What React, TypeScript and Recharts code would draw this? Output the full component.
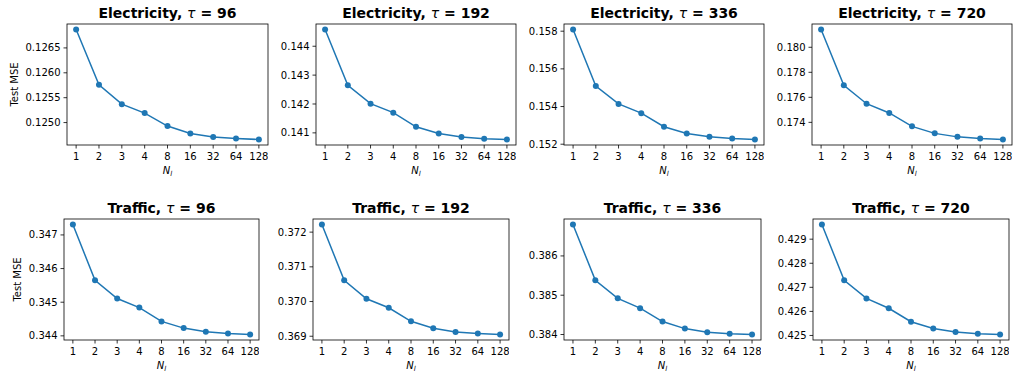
import { Line, LineChart, XAxis, YAxis } from 'recharts'

const nLayers = ['1', '2', '3', '4', '8', '16', '32', '64', '128']

const electricity96 = [0.12687, 0.12576, 0.12537, 0.12519, 0.12493, 0.12478, 0.12471, 0.12468, 0.12466]
const electricity192 = [0.14458, 0.14265, 0.14201, 0.1417, 0.14121, 0.14098, 0.14086, 0.1408, 0.14077]
const electricity336 = [0.15809, 0.15509, 0.15414, 0.15365, 0.15293, 0.15257, 0.15239, 0.1523, 0.15225]
const electricity720 = [0.18142, 0.17696, 0.17549, 0.17475, 0.17368, 0.17312, 0.17284, 0.17271, 0.17263]
const traffic96 = [0.34731, 0.34565, 0.34511, 0.34484, 0.34443, 0.34423, 0.34412, 0.34407, 0.34404]
const traffic192 = [0.37222, 0.37061, 0.37008, 0.36982, 0.36943, 0.36923, 0.36912, 0.36908, 0.36905]
const traffic336 = [0.3868, 0.38538, 0.38492, 0.38467, 0.38433, 0.38415, 0.38406, 0.38402, 0.384]
const traffic720 = [0.42961, 0.42729, 0.42654, 0.42613, 0.42557, 0.42529, 0.42514, 0.42507, 0.42504]

const ticksE96 = [0.125, 0.1255, 0.126, 0.1265]
const ticksE192 = [0.141, 0.142, 0.143, 0.144]
const ticksE336 = [0.152, 0.154, 0.156, 0.158]
const ticksE720 = [0.174, 0.176, 0.178, 0.18]
const ticksT96 = [0.344, 0.345, 0.346, 0.347]
const ticksT192 = [0.369, 0.37, 0.371, 0.372]
const ticksT336 = [0.384, 0.385, 0.386]
const ticksT720 = [0.425, 0.426, 0.427, 0.428, 0.429]

const FONT = '"DejaVu Sans", sans-serif'
const BLUE = '#1f77b4'
const YW = 60

type PanelDef = {
  name: string
  tau: number
  values: number[]
  ticks: number[]
  digits: number
  x0: number
  x1: number
  y0: number
  y1: number
  ylabelX?: number
}

const panels: PanelDef[] = [
  { name: 'Electricity', tau: 96, values: electricity96, ticks: ticksE96, digits: 4, x0: 67, x1: 268, y0: 24, y1: 145, ylabelX: 18 },
  { name: 'Electricity', tau: 192, values: electricity192, ticks: ticksE192, digits: 3, x0: 316, x1: 516, y0: 24, y1: 145 },
  { name: 'Electricity', tau: 336, values: electricity336, ticks: ticksE336, digits: 3, x0: 564, x1: 764, y0: 24, y1: 145 },
  { name: 'Electricity', tau: 720, values: electricity720, ticks: ticksE720, digits: 3, x0: 812, x1: 1012, y0: 24, y1: 145 },
  { name: 'Traffic', tau: 96, values: traffic96, ticks: ticksT96, digits: 3, x0: 64, x1: 259, y0: 219, y1: 340, ylabelX: 21 },
  { name: 'Traffic', tau: 192, values: traffic192, ticks: ticksT192, digits: 3, x0: 313, x1: 509, y0: 219, y1: 340 },
  { name: 'Traffic', tau: 336, values: traffic336, ticks: ticksT336, digits: 3, x0: 564, x1: 761, y0: 219, y1: 340 },
  { name: 'Traffic', tau: 720, values: traffic720, ticks: ticksT720, digits: 3, x0: 813, x1: 1009, y0: 219, y1: 340 },
]

function Panel({ p }: { p: PanelDef }) {
  const w = p.x1 - p.x0
  const h = p.y1 - p.y0
  const pad = w / 22
  const data = nLayers.map((n, i) => ({ n, mse: p.values[i] }))
  const lo = Math.min(...p.values)
  const hi = Math.max(...p.values)
  const r = hi - lo
  const tickStyle = { fontSize: 10, fill: '#000', fontFamily: FONT }
  return (
    <div style={{ position: 'absolute', left: p.x0 - YW, top: p.y0 - 20 }}>
      <LineChart
        width={YW + w}
        height={20 + h + 30}
        data={data}
        margin={{ top: 20, right: 0, bottom: 0, left: 0 }}
      >
        <XAxis
          dataKey="n"
          padding={{ left: pad, right: pad }}
          axisLine={false}
          tickLine={{ stroke: '#000', strokeWidth: 0.8 }}
          tickSize={3.5}
          tickMargin={4}
          tick={tickStyle}
          height={30}
          interval={0}
        />
        <YAxis
          type="number"
          width={YW}
          domain={[lo - 0.05 * r, hi + 0.05 * r]}
          allowDataOverflow
          ticks={p.ticks}
          tickFormatter={(v: number) => v.toFixed(p.digits)}
          axisLine={false}
          tickLine={{ stroke: '#000', strokeWidth: 0.8 }}
          tickSize={3.5}
          tickMargin={3}
          tick={tickStyle}
        />
        <Line
          dataKey="mse"
          stroke={BLUE}
          strokeWidth={1.5}
          dot={{ r: 3, fill: BLUE, stroke: BLUE, strokeWidth: 0 }}
          isAnimationActive={false}
        />
      </LineChart>
    </div>
  )
}

export default function App() {
  return (
    <div style={{ position: 'absolute', left: 0, top: 0, width: 1015, height: 373, background: '#fff', fontFamily: FONT }}>
      {panels.map((p, i) => (
        <Panel key={i} p={p} />
      ))}
      <svg width={1015} height={373} style={{ position: 'absolute', left: 0, top: 0, pointerEvents: 'none' }}>
        {panels.map((p, i) => {
          const cx = (p.x0 + p.x1) / 2
          const cy = (p.y0 + p.y1) / 2
          return (
            <g key={i} fontFamily={FONT}>
              <rect x={p.x0} y={p.y0} width={p.x1 - p.x0} height={p.y1 - p.y0} fill="none" stroke="#000" strokeWidth={0.8} />
              <text x={cx} y={p.y0 - 6.5} textAnchor="middle" fontSize={14} fontWeight="bold" fill="#000">
                {p.name},{' '}
                <tspan fontStyle="italic" fontWeight="normal">τ</tspan>
                <tspan> = {p.tau}</tspan>
              </text>
              <text x={cx} y={p.y1 + 29} textAnchor="middle" fontSize={10} fill="#000" fontStyle="italic">
                N<tspan fontSize={7} dy={2}>l</tspan>
              </text>
              {p.ylabelX !== undefined && (
                <text
                  transform={`translate(${p.ylabelX}, ${cy}) rotate(-90)`}
                  textAnchor="middle"
                  fontSize={10}
                  fill="#000"
                >
                  Test MSE
                </text>
              )}
            </g>
          )
        })}
      </svg>
    </div>
  )
}
